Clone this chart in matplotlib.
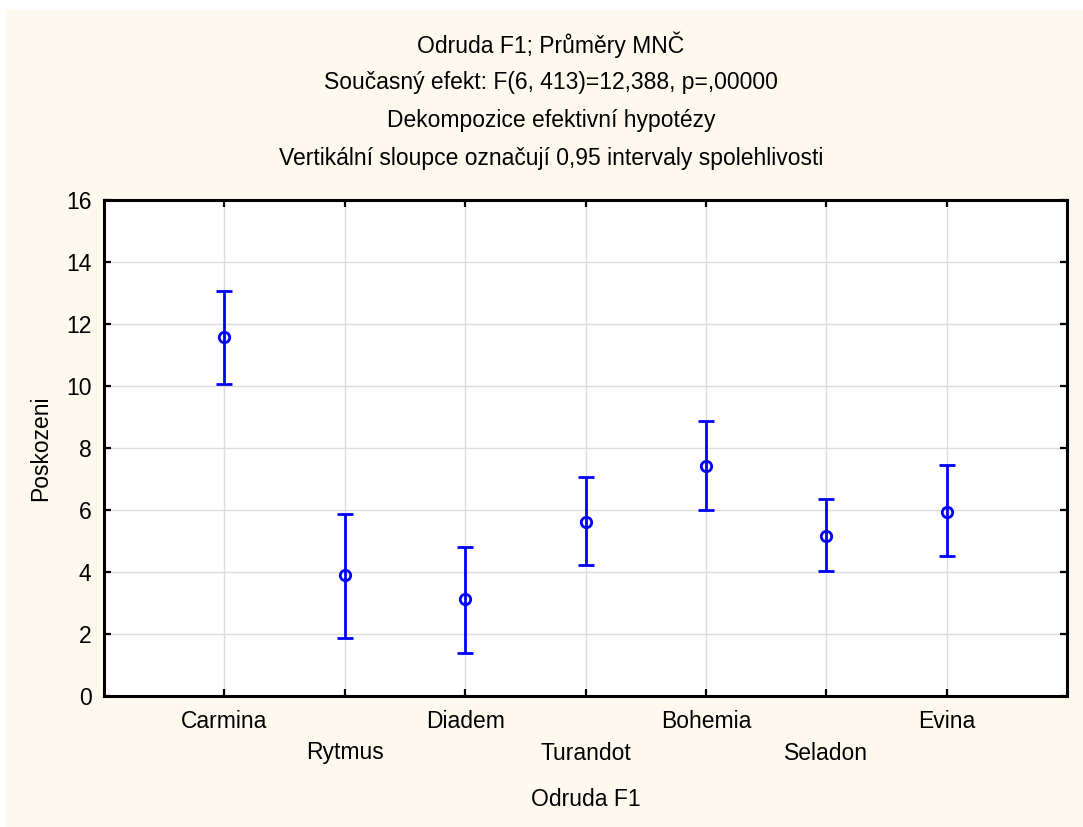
import matplotlib
matplotlib.use("Agg")
import matplotlib.pyplot as plt
from matplotlib.patches import Rectangle

plt.rcParams["font.family"] = ["Liberation Sans", "DejaVu Sans"]

VARIETIES = ["Carmina", "Rytmus", "Diadem", "Turandot", "Bohemia", "Seladon", "Evina"]
MEANS = [11.58, 3.90, 3.12, 5.62, 7.42, 5.16, 5.94]
CI_LOW = [10.07, 1.87, 1.38, 4.24, 6.00, 4.04, 4.51]
CI_HIGH = [13.05, 5.88, 4.81, 7.08, 8.87, 6.34, 7.44]

TITLE_LINES = [
    "Odruda F1; Průměry MNČ",
    "Současný efekt: F(6, 413)=12,388, p=,00000",
    "Dekompozice efektivní hypotézy",
    "Vertikální sloupce označují 0,95 intervaly spolehlivosti",
]

FS = 16.5
W, H = 1083, 827
fig = plt.figure(figsize=(W / 100, H / 100), dpi=100, facecolor="white")

# cream panel behind everything
fig.patches.append(Rectangle((6 / W, 0), 1 - 6 / W, 1 - 10 / H, transform=fig.transFigure,
                             facecolor="#FEF9EE", edgecolor="none", zorder=-5))

left, right, top, bottom = 104, 1067, 200, 696
ax = fig.add_axes([left / W, 1 - bottom / H, (right - left) / W, (bottom - top) / H])
ax.set_facecolor("white")

x = list(range(1, len(VARIETIES) + 1))
lower_err = [m - lo for m, lo in zip(MEANS, CI_LOW)]
upper_err = [hi - m for m, hi in zip(MEANS, CI_HIGH)]
ax.errorbar(x, MEANS, yerr=[lower_err, upper_err], fmt="o", color="#0000FF",
            ecolor="#0000FF", elinewidth=2.0, capsize=5.5, capthick=2.0,
            markersize=7.5, markerfacecolor="none", markeredgewidth=2.0, zorder=3)

ax.set_xlim(0, 8)
ax.set_ylim(0, 16)
ax.set_yticks(range(0, 17, 2))
ax.set_xticks(x)
ax.set_xticklabels([])
ax.grid(True, color="#DCDCDC", linewidth=1.0)
ax.set_axisbelow(True)

for s in ax.spines.values():
    s.set_linewidth(2.2)
    s.set_color("black")
ax.tick_params(direction="in", length=5, width=1.6, top=True, right=True,
               labelsize=FS, pad=9)
ax.tick_params(axis="x", labelbottom=False)

# staggered category labels under the axis
for i, (xi, name) in enumerate(zip(x, VARIETIES)):
    ypix = 721 if i % 2 == 0 else 753
    ax.annotate(name, xy=(xi, 0), xycoords=("data", "axes fraction"),
                xytext=(0, -(ypix - bottom) * 0.72), textcoords="offset points",
                ha="center", va="center", fontsize=FS)

ax.set_ylabel("Poskozeni", fontsize=FS, labelpad=10)
fig.text((left + right) / 2 / W, 1 - 800 / H, "Odruda F1", ha="center", va="center",
         fontsize=FS)

for i, line in enumerate(TITLE_LINES):
    fig.text(551 / W, 1 - (45 + 38 * i) / H, line, ha="center", va="center",
             fontsize=FS)

fig.savefig("out.png", dpi=100, facecolor=fig.get_facecolor())
